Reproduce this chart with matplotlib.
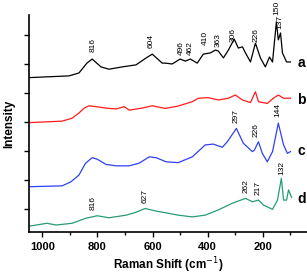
import matplotlib.pyplot as plt
from matplotlib.ticker import MultipleLocator

# spectra (stacked, arbitrary units)
shift_a = [1048, 903, 867, 838, 819, 787, 758, 710, 660, 623, 601, 565, 554, 529, 500,
           481, 463, 438, 416, 391, 372, 362, 343, 325, 304, 289, 274, 263, 245, 227,
           209, 191, 176, 165, 151, 144, 136, 129, 114, 100]
int_a = [4.53, 4.59, 4.69, 5.03, 5.17, 4.90, 4.82, 4.90, 4.97, 5.21, 5.34, 5.03, 5.03,
         5.00, 5.17, 5.10, 5.17, 5.03, 5.34, 5.38, 5.48, 5.45, 5.21, 5.48, 5.86, 5.55,
         5.59, 5.38, 5.07, 5.72, 5.21, 4.90, 5.24, 5.07, 6.45, 5.83, 6.07, 5.38, 5.07, 5.07]

shift_b = [1048, 928, 892, 867, 848, 830, 805, 769, 732, 703, 685, 638, 601, 565, 554,
           507, 456, 434, 398, 362, 325, 300, 274, 245, 227, 216, 184, 162, 144, 125, 100]
int_b = [2.98, 3.03, 3.13, 3.31, 3.48, 3.56, 3.53, 3.48, 3.45, 3.53, 3.41, 3.48, 3.56,
         3.49, 3.47, 3.55, 3.70, 3.82, 3.84, 3.76, 3.82, 3.93, 3.76, 3.67, 4.04, 3.70,
         3.64, 3.82, 3.93, 3.82, 3.82]

shift_c = [1048, 928, 896, 867, 843, 819, 801, 769, 732, 685, 649, 612, 587, 551, 507,
           456, 409, 380, 347, 329, 296, 271, 238, 231, 216, 202, 184, 165, 144, 125,
           111, 100]
int_c = [0.77, 0.80, 0.94, 1.17, 1.58, 1.77, 1.72, 1.54, 1.49, 1.49, 1.58, 1.80, 1.77,
         1.63, 1.60, 1.80, 2.21, 2.24, 2.13, 2.32, 2.78, 2.27, 1.98, 2.03, 2.32, 1.92,
         1.63, 1.98, 2.96, 2.21, 1.92, 1.98]

shift_d = [1048, 983, 950, 892, 843, 801, 758, 696, 660, 627, 587, 551, 507, 456, 409,
           362, 311, 263, 238, 216, 198, 165, 147, 133, 125, 114, 107, 96]
int_d = [-0.59, -0.49, -0.55, -0.49, -0.32, -0.23, -0.30, -0.21, -0.11, 0.02, -0.07,
         -0.13, -0.21, -0.27, -0.21, -0.03, 0.20, 0.37, 0.25, 0.31, 0.14, -0.01, 0.31,
         1.06, 0.31, 0.31, 0.66, 0.40]

# peak labels: (wavenumber, text height)
peaks_a = [(816, 5.41), (604, 5.55), (496, 5.31), (462, 5.31), (410, 5.66),
           (363, 5.59), (306, 5.76), (226, 5.76), (150, 6.69), (137, 6.21)]
peaks_c = [(297, 2.97), (226, 2.48), (144, 3.17)]
peaks_d = [(816, -0.03), (627, 0.21), (262, 0.55), (217, 0.48), (132, 1.17)]

letters = ['a', 'b', 'c', 'd']
letter_y = [5.03, 3.76, 2.0, 0.34]

fig = plt.figure(figsize=(3.07, 2.77), dpi=100)
ax = fig.add_axes([0.0945, 0.1625, 0.9055, 0.7835])

ax.plot(shift_a, int_a, color='black', lw=0.9)
ax.plot(shift_b, int_b, color='#ff1a1a', lw=0.9)
ax.plot(shift_c, int_c, color='#3040f0', lw=0.9)
ax.plot(shift_d, int_d, color='#279c74', lw=0.9)

for x, y in peaks_a + peaks_c + peaks_d:
    ax.text(x, y, str(x), rotation=90, ha='center', va='bottom',
            fontsize=6, family='Liberation Sans')

for s, y in zip(letters, letter_y):
    ax.text(60, y, s, ha='center', va='center', fontsize=10,
            fontweight='bold', family='Liberation Sans', clip_on=False)

ax.set_xlim(1048, 40)
ax.set_ylim(-0.79, 6.69)
ax.xaxis.set_major_locator(MultipleLocator(200))
ax.xaxis.set_minor_locator(MultipleLocator(100))
ax.set_yticks(range(7))
ax.set_yticklabels([])

for side in ['top', 'right']:
    ax.spines[side].set_visible(False)
for side in ['left', 'bottom']:
    ax.spines[side].set_linewidth(1.2)
ax.tick_params(axis='both', which='major', direction='out', length=3.5, width=1)
ax.tick_params(axis='x', which='minor', direction='out', length=2.5, width=1)
for lab in ax.get_xticklabels():
    lab.set_fontweight('bold')
    lab.set_fontsize(8)
    lab.set_family('Liberation Sans')

ax.set_xlabel('Raman Shift (cm$^{-1}$)', fontsize=8.5, fontweight='bold',
              family='Liberation Sans', labelpad=3)
ax.set_ylabel('Intensity', fontsize=8.5, fontweight='bold', family='Liberation Sans',
              labelpad=3)

plt.savefig('out.png', dpi=100)
